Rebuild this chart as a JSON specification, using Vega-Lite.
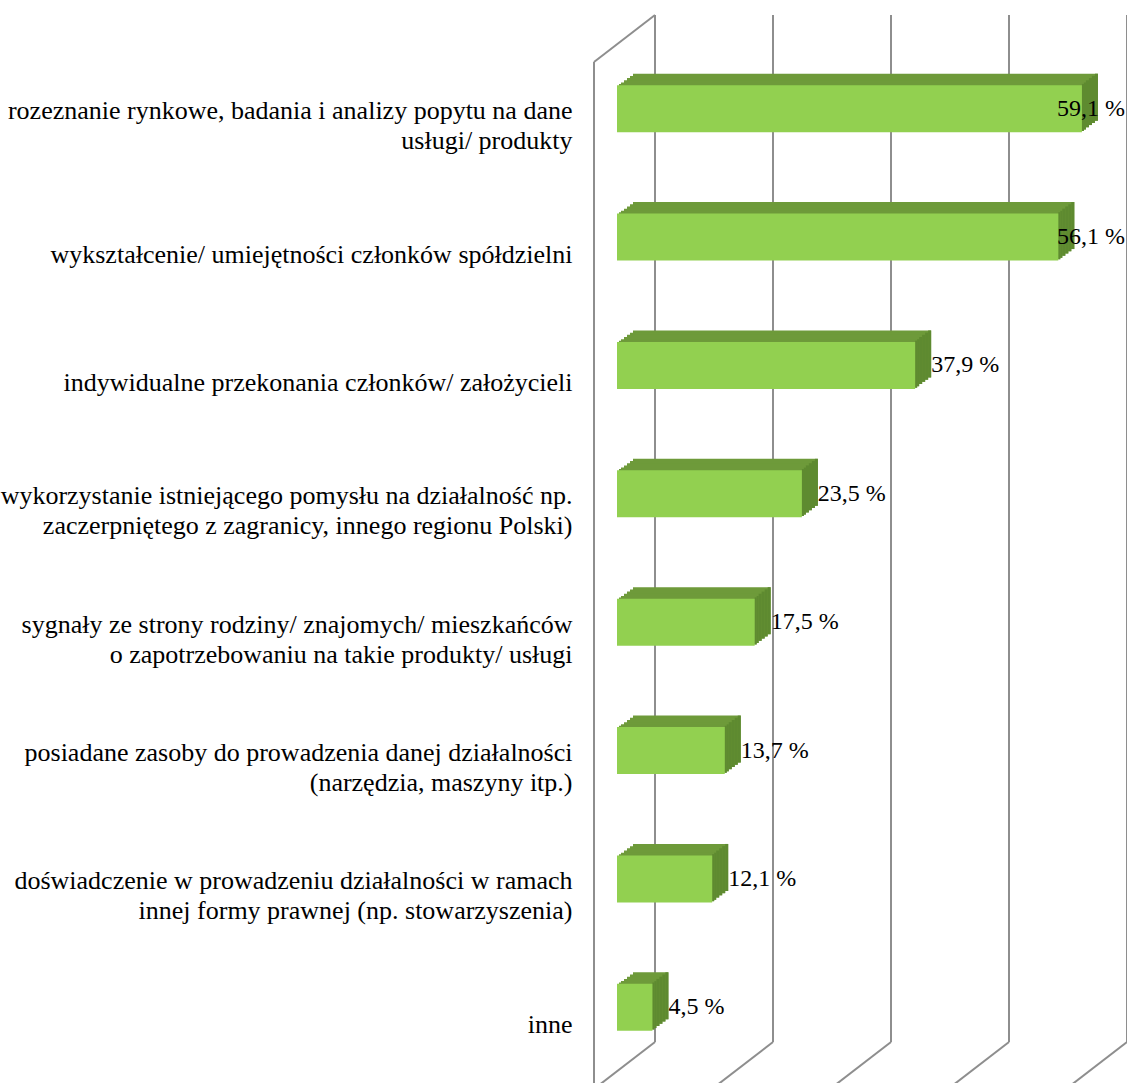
{
  "$schema": "https://vega.github.io/schema/vega-lite/v6.json",
  "width": 472,
  "height": 1027,
  "autosize": "none",
  "padding": {"left": 655, "top": 15, "right": 0, "bottom": 41},
  "background": "white",
  "config": {"view": {"stroke": null}},
  "datasets": {
    "bars": [
      {"cat": "rozeznanie rynkowe, badania i analizy popytu na dane|usługi/ produkty", "value": 59.1, "label": "59,1 %"},
      {"cat": "wykształcenie/ umiejętności członków spółdzielni", "value": 56.1, "label": "56,1 %"},
      {"cat": "indywidualne przekonania członków/ założycieli", "value": 37.9, "label": "37,9 %"},
      {"cat": "wykorzystanie istniejącego pomysłu na działalność np.|zaczerpniętego z zagranicy, innego regionu Polski)", "value": 23.5, "label": "23,5 %"},
      {"cat": "sygnały ze strony rodziny/ znajomych/ mieszkańców|o zapotrzebowaniu na takie produkty/ usługi", "value": 17.5, "label": "17,5 %"},
      {"cat": "posiadane zasoby do prowadzenia danej działalności|(narzędzia, maszyny itp.)", "value": 13.7, "label": "13,7 %"},
      {"cat": "doświadczenie w prowadzeniu działalności w ramach|innej formy prawnej (np. stowarzyszenia)", "value": 12.1, "label": "12,1 %"},
      {"cat": "inne", "value": 4.5, "label": "4,5 %"}
    ],
    "grid": [{"g": 0}, {"g": 15}, {"g": 30}, {"g": 45}, {"g": 60}]
  },
  "layer": [
    {
      "data": {"name": "grid"},
      "mark": {"type": "rule", "color": "#8E8E8E", "strokeWidth": 2},
      "encoding": {
        "x": {"field": "g", "type": "quantitative", "scale": {"domain": [0, 60], "nice": false, "zero": true}, "axis": null}
      }
    },
    {
      "data": {"name": "grid"},
      "mark": {"type": "rule", "color": "#8E8E8E", "strokeWidth": 2, "x2Offset": -61, "y2Offset": 47},
      "encoding": {
        "x": {"field": "g", "type": "quantitative", "scale": {"domain": [0, 60], "nice": false, "zero": true}, "axis": null},
        "x2": {"field": "g"},
        "y": {"value": "height"},
        "y2": {"value": "height"}
      }
    },
    {
      "data": {"values": [{"g": 0}]},
      "mark": {"type": "rule", "color": "#8E8E8E", "strokeWidth": 2, "x2Offset": -61, "y2Offset": 47},
      "encoding": {
        "x": {"field": "g", "type": "quantitative", "scale": {"domain": [0, 60], "nice": false, "zero": true}, "axis": null},
        "x2": {"field": "g"},
        "y": {"value": 0},
        "y2": {"value": 0}
      }
    },
    {
      "data": {"values": [{"g": 0}]},
      "mark": {"type": "rule", "color": "#8E8E8E", "strokeWidth": 2, "xOffset": -61, "x2Offset": -61, "yOffset": 47, "y2Offset": 47},
      "encoding": {
        "x": {"field": "g", "type": "quantitative", "scale": {"domain": [0, 60], "nice": false, "zero": true}, "axis": null},
        "x2": {"field": "g"},
        "y": {"value": 0},
        "y2": {"value": "height"}
      }
    },
    {
      "data": {"name": "bars"},
      "encoding": {
        "y": {
          "field": "cat",
          "type": "nominal",
          "sort": null,
          "scale": {"paddingInner": 0.634, "paddingOuter": 0.317},
          "axis": {
            "title": null,
            "domain": false,
            "ticks": false,
            "tickSize": 0,
            "grid": false,
            "labelExpr": "split(datum.value, '|')",
            "labelFont": "Liberation Serif",
            "labelFontSize": 26,
            "labelColor": "#000000",
            "labelAlign": "right",
            "labelBaseline": "middle",
            "labelLineHeight": 30,
            "labelPadding": 83,
            "labelOffset": {"condition": {"test": "indexof(datum.value, '|') >= 0", "value": 32}, "value": 47},
            "labelLimit": 0,
            "labelOverlap": false,
            "labelBound": false
          }
        }
      },
      "layer": [
        {"mark": {"type": "bar", "color": "#6E9A3A", "xOffset": -22, "x2Offset": -22, "yOffset": 18},
         "encoding": {"x": {"field": "value", "type": "quantitative", "scale": {"domain": [0, 60], "nice": false, "zero": true}, "axis": null}}},
        {"mark": {"type": "bar", "color": "#6E9A3A", "xOffset": -25, "x2Offset": -25, "yOffset": 20.2},
         "encoding": {"x": {"field": "value", "type": "quantitative", "scale": {"domain": [0, 60], "nice": false, "zero": true}, "axis": null}}},
        {"mark": {"type": "bar", "color": "#6E9A3A", "xOffset": -28, "x2Offset": -28, "yOffset": 22.4},
         "encoding": {"x": {"field": "value", "type": "quantitative", "scale": {"domain": [0, 60], "nice": false, "zero": true}, "axis": null}}},
        {"mark": {"type": "bar", "color": "#6E9A3A", "xOffset": -31, "x2Offset": -31, "yOffset": 24.6},
         "encoding": {"x": {"field": "value", "type": "quantitative", "scale": {"domain": [0, 60], "nice": false, "zero": true}, "axis": null}}},
        {"mark": {"type": "bar", "color": "#6E9A3A", "xOffset": -34, "x2Offset": -34, "yOffset": 26.8},
         "encoding": {"x": {"field": "value", "type": "quantitative", "scale": {"domain": [0, 60], "nice": false, "zero": true}, "axis": null}}},
        {"mark": {"type": "bar", "color": "#6E9A3A", "xOffset": -36, "x2Offset": -36, "yOffset": 28.2},
         "encoding": {"x": {"field": "value", "type": "quantitative", "scale": {"domain": [0, 60], "nice": false, "zero": true}, "axis": null}}},
        {"mark": {"type": "bar", "color": "#5E8A30", "xOffset": -38, "x2Offset": -36, "yOffset": 28.2},
         "encoding": {"x": {"field": "value", "type": "quantitative", "scale": {"domain": [0, 60], "nice": false, "zero": true}, "axis": null}, "x2": {"field": "value"}}},
        {"mark": {"type": "bar", "color": "#5E8A30", "xOffset": -36, "x2Offset": -34, "yOffset": 26.8},
         "encoding": {"x": {"field": "value", "type": "quantitative", "scale": {"domain": [0, 60], "nice": false, "zero": true}, "axis": null}, "x2": {"field": "value"}}},
        {"mark": {"type": "bar", "color": "#5E8A30", "xOffset": -34, "x2Offset": -31, "yOffset": 24.6},
         "encoding": {"x": {"field": "value", "type": "quantitative", "scale": {"domain": [0, 60], "nice": false, "zero": true}, "axis": null}, "x2": {"field": "value"}}},
        {"mark": {"type": "bar", "color": "#5E8A30", "xOffset": -31, "x2Offset": -28, "yOffset": 22.4},
         "encoding": {"x": {"field": "value", "type": "quantitative", "scale": {"domain": [0, 60], "nice": false, "zero": true}, "axis": null}, "x2": {"field": "value"}}},
        {"mark": {"type": "bar", "color": "#5E8A30", "xOffset": -28, "x2Offset": -25, "yOffset": 20.2},
         "encoding": {"x": {"field": "value", "type": "quantitative", "scale": {"domain": [0, 60], "nice": false, "zero": true}, "axis": null}, "x2": {"field": "value"}}},
        {"mark": {"type": "bar", "color": "#5E8A30", "xOffset": -25, "x2Offset": -22, "yOffset": 18},
         "encoding": {"x": {"field": "value", "type": "quantitative", "scale": {"domain": [0, 60], "nice": false, "zero": true}, "axis": null}, "x2": {"field": "value"}}},
        {"mark": {"type": "bar", "color": "#92D050", "xOffset": -38, "x2Offset": -38, "yOffset": 29.5},
         "encoding": {"x": {"field": "value", "type": "quantitative", "scale": {"domain": [0, 60], "nice": false, "zero": true}, "axis": null}}},
        {"transform": [{"filter": "datum.value < 50"}],
         "mark": {"type": "text", "font": "Liberation Serif", "fontSize": 24, "color": "#000000", "align": "left", "baseline": "middle", "dx": -22, "dy": 29.5},
         "encoding": {"x": {"field": "value", "type": "quantitative", "scale": {"domain": [0, 60], "nice": false, "zero": true}, "axis": null}, "text": {"field": "label"}}},
        {"transform": [{"filter": "datum.value >= 50"}],
         "mark": {"type": "text", "font": "Liberation Serif", "fontSize": 24, "color": "#000000", "align": "right", "baseline": "middle", "dx": -2, "dy": 29.5},
         "encoding": {"x": {"value": "width"}, "text": {"field": "label"}}}
      ]
    }
  ]
}
